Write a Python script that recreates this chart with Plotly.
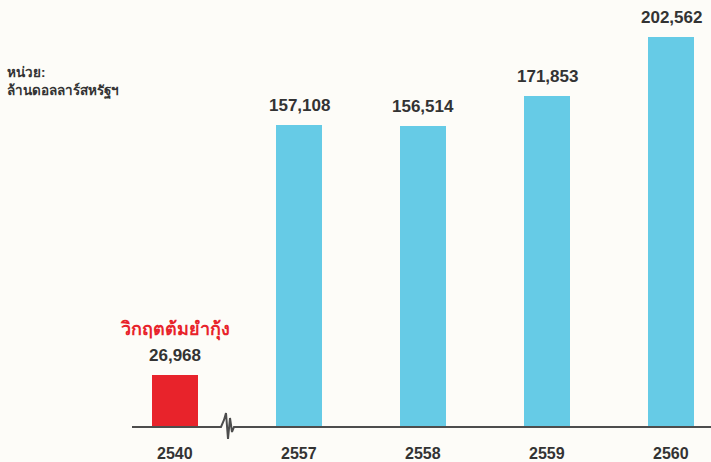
import plotly.graph_objects as go

years = ["2540", "2557", "2558", "2559", "2560"]
values = [26968, 157108, 156514, 171853, 202562]
colors = ["#e8232b", "#66cbe6", "#66cbe6", "#66cbe6", "#66cbe6"]
value_labels = ["26,968", "157,108", "156,514", "171,853", "202,562"]
crisis_label = "วิกฤตต้มยำกุ้ง"
unit_line1 = "หน่วย:"
unit_line2 = "ล้านดอลลาร์สหรัฐฯ"

W, H = 711, 462
xs = list(range(len(years)))

# axis ranges chosen so the plot fills the canvas
x0 = -175 / 124
x1 = x0 + W / 124
per_px = 202562 / 390
y0 = -(H - 427) * per_px
y1 = y0 + H * per_px

fig = go.Figure()
fig.add_trace(go.Bar(
    x=xs, y=values, marker=dict(color=colors, line=dict(width=0)),
    width=0.37, hoverinfo="skip", showlegend=False,
))

font_fam = "Liberation Sans, Arial, Noto Sans, sans-serif"
ann = []
for x, v, lab, yr in zip(xs, values, value_labels, years):
    ann.append(dict(x=x, y=v, text=f"<b>{lab}</b>", showarrow=False,
                    yanchor="bottom", yshift=8,
                    font=dict(size=17, color="#333333", family=font_fam)))
    ann.append(dict(x=x, y=0, text=f"<b>{yr}</b>", showarrow=False,
                    yanchor="top", yshift=-16,
                    font=dict(size=16, color="#333333", family=font_fam)))
ann.append(dict(x=0, y=values[0], text=f"<b>{crisis_label}</b>", showarrow=False,
                yanchor="bottom", yshift=32,
                font=dict(size=18, color="#e8232b", family=font_fam)))
ann.append(dict(xref="paper", yref="paper", x=5 / W, y=1 - 72 / H, text=f"<b>{unit_line1}</b>",
                showarrow=False, xanchor="left", yanchor="middle",
                font=dict(size=13.5, color="#333333", family=font_fam)))
ann.append(dict(xref="paper", yref="paper", x=5 / W, y=1 - 91 / H, text=f"<b>{unit_line2}</b>",
                showarrow=False, xanchor="left", yanchor="middle",
                font=dict(size=13.5, color="#333333", family=font_fam)))

# baseline with a break symbol
px = lambda p: x0 + p / W * (x1 - x0)
py = lambda p: y0 + (H - p) / H * (y1 - y0)
zx = [218, 221, 224, 226, 228, 230, 232, 234, 238]
zy = [427, 427, 420, 413, 439, 418, 432, 427, 427]
fig.add_trace(go.Scatter(
    x=[px(132), px(218)] + [px(v) for v in zx] + [px(238), px(711)],
    y=[0, 0] + [py(v) for v in zy] + [0, 0],
    mode="lines", line=dict(color="#4d4d4d", width=2), hoverinfo="skip",
    showlegend=False, cliponaxis=False,
))

fig.update_layout(
    width=W, height=H, margin=dict(l=0, r=0, t=0, b=0),
    paper_bgcolor="#fdfcf8", plot_bgcolor="#fdfcf8",
    xaxis=dict(range=[x0, x1], visible=False, fixedrange=True),
    yaxis=dict(range=[y0, y1], visible=False, fixedrange=True),
    annotations=ann, bargap=0,
)
fig.write_html("out.html", config={"displayModeBar": False},
               post_script="document.body.style.margin='0';document.body.style.background='#fdfcf8';")
